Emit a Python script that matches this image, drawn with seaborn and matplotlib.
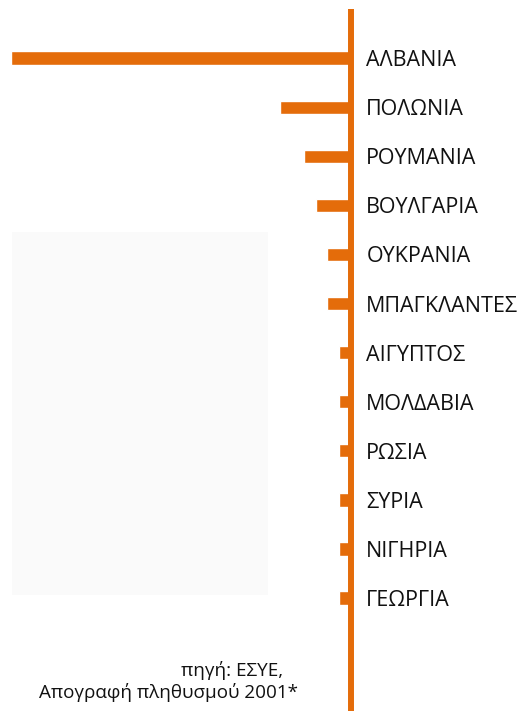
import matplotlib
matplotlib.use('Agg')
import matplotlib.pyplot as plt
import seaborn as sns
import pandas as pd
from matplotlib.patches import Rectangle

# Countries of origin (top to bottom) and bar lengths
countries = ["ΑΛΒΑΝΙΑ", "ΠΟΛΩΝΙΑ", "ΡΟΥΜΑΝΙΑ", "ΒΟΥΛΓΑΡΙΑ", "ΟΥΚΡΑΝΙΑ", "ΜΠΑΓΚΛΑΝΤΕΣ",
             "ΑΙΓΥΠΤΟΣ", "ΜΟΛΔΑΒΙΑ", "ΡΩΣΙΑ", "ΣΥΡΙΑ", "ΝΙΓΗΡΙΑ", "ΓΕΩΡΓΙΑ"]
values = [438, 92, 61, 45, 31, 31, 15, 15, 15, 15, 15, 15]
source_lines = ["πηγή: ΕΣΥΕ,", "Απογραφή πληθυσμού 2001*"]

ORANGE = "#e46c0a"

sns.set_style("white")
plt.rcParams['font.family'] = ['Open Sans', 'DejaVu Sans']

df = pd.DataFrame({"country": countries, "value": values})

fig = plt.figure(figsize=(5.24, 7.11), dpi=100)
W, H = 524, 711

# faint grey panel behind the lower-left area
fig.patches.append(Rectangle((12 / W, 1 - 595 / H), 256 / W, 363 / H,
                             transform=fig.transFigure, facecolor="#fafafa",
                             edgecolor="none", zorder=0))

ax = fig.add_axes([11 / W, 0, 340 / W, 1 - 9 / H])
ax.patch.set_alpha(0)

sns.barplot(data=df, x="value", y="country", orient="h", color=ORANGE,
            width=0.27, saturation=1, ax=ax)

ax.set_xlim(max(values), 0)
ax.set_ylim(len(countries) - 1 + 2.3, -1.0)
ax.axvline(0, color=ORANGE, lw=4.3, solid_capstyle="butt", clip_on=False, zorder=3)

for s in ax.spines.values():
    s.set_visible(False)
ax.set_xticks([])
ax.set_xlabel("")
ax.set_ylabel("")
ax.yaxis.tick_right()
ax.tick_params(axis="y", length=0, pad=11, labelsize=15.5, labelcolor="#111111")

fig.text(283 / W, 1 - 671 / H, source_lines[0], ha="right", va="center",
         fontsize=13.6, color="#111111")
fig.text(298 / W, 1 - 693 / H, source_lines[1], ha="right", va="center",
         fontsize=13.6, color="#111111")

fig.savefig("out.png", dpi=100)
plt.close(fig)
